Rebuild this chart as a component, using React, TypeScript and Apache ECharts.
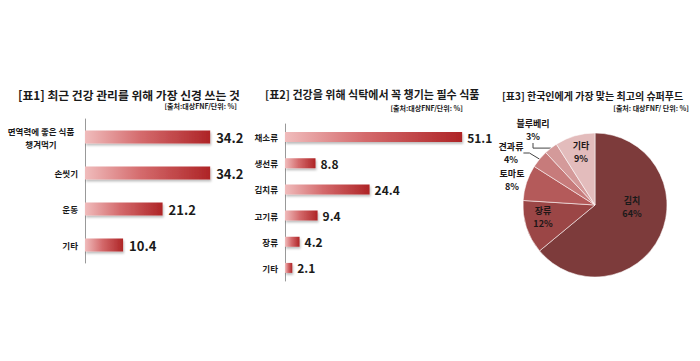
import React, { useEffect, useRef } from "react";
import * as echarts from "echarts";

const FONT = '"Noto Sans CJK KR", "Noto Sans", sans-serif';

// Chart 1
const title1 = "[표1] 최근 건강 관리를 위해 가장 신경 쓰는 것";
const source1 = "[출처:대상FNF/단위: %]";
const cats1 = ["면역력에 좋은 식품\n챙겨먹기", "손씻기", "운동", "기타"];
const vals1 = [34.2, 34.2, 21.2, 10.4];

// Chart 2
const title2 = "[표2] 건강을 위해 식탁에서 꼭 챙기는 필수 식품";
const source2 = "[출처:대상FNF/단위: %]";
const cats2 = ["채소류", "생선류", "김치류", "고기류", "장류", "기타"];
const vals2 = [51.1, 8.8, 24.4, 9.4, 4.2, 2.1];

// Chart 3
const title3 = "[표3] 한국인에게 가장 맞는 최고의 슈퍼푸드";
const source3 = "[출처: 대상FNF/ 단위: %]";
const pieNames = ["김치", "장류", "토마토", "견과류", "블루베리", "기타"];
const pieVals = [64, 12, 8, 4, 3, 9];
const pieColors = ["#7d3b3b", "#9b4646", "#b45a5a", "#c77b7b", "#d49a9a", "#e3bcbc"];
// label layout (centres of label blocks) - styling, not data
const pieLabelPos = [
  [632, 207],
  [543, 217],
  [512, 180],
  [511, 153],
  [533, 130],
  [581, 152],
];
const pieLine = [false, false, false, true, true, false];
const pieSeriesLabel = [false, true, true, true, true, true];

const barGradient = () =>
  new echarts.graphic.LinearGradient(0, 0, 1, 0, [
    { offset: 0, color: "#f0bcbc" },
    { offset: 0.45, color: "#d46a6c" },
    { offset: 1, color: "#ae2426" },
  ]);

export default function App() {
  const ref = useRef<HTMLDivElement>(null);
  useEffect(() => {
    document.body.style.margin = "0";
    if (!ref.current) return;
    const chart = echarts.init(ref.current, undefined, { renderer: "svg" });

    const catLabel = (size: number, margin: number) => ({
      fontSize: size,
      fontWeight: "bold" as const,
      fontFamily: FONT,
      color: "#1a1a1a",
      margin,
      formatter: (v: string) =>
        v.includes("\n")
          ? v
              .split("\n")
              .map((l) => `{c|${l}}`)
              .join("\n")
          : v,
      rich: {
        c: {
          width: 74,
          align: "center",
          fontSize: size,
          fontWeight: "bold",
          fontFamily: FONT,
          color: "#1a1a1a",
          lineHeight: 13,
        },
      },
    });

    const txt = (
      text: string,
      x: number,
      y: number,
      size: number,
      align: string,
      lineHeight?: number
    ) => ({
      type: "text",
      x,
      y,
      z: 100,
      style: {
        text,
        fontSize: size,
        fontWeight: "bold",
        fontFamily: FONT,
        fill: "#1a1a1a",
        align,
        verticalAlign: "middle",
        lineHeight,
      },
    });

    chart.setOption({
      animation: false,
      backgroundColor: "#fff",
      graphic: [
        txt(title1, 18, 94, 11.8, "left"),
        txt(source1, 237, 106, 7, "right"),
        txt(title2, 265, 94, 11, "left"),
        txt(source2, 463, 108, 7, "right"),
        txt(title3, 502, 95, 10, "left"),
        txt(source3, 689, 108, 7, "right"),
        txt(
          `${pieNames[0]}\n${pieVals[0]}%`,
          pieLabelPos[0][0],
          pieLabelPos[0][1],
          9,
          "center",
          13
        ),
      ],
      grid: [
        { left: 85, top: 119, width: 183, height: 144 },
        { left: 285, top: 124, width: 208, height: 157 },
      ],
      xAxis: [
        { gridIndex: 0, type: "value", min: 0, max: 50, show: false },
        { gridIndex: 1, type: "value", min: 0, max: 60, show: false },
      ],
      yAxis: [
        {
          gridIndex: 0,
          type: "category",
          inverse: true,
          data: cats1,
          axisLine: { lineStyle: { color: "#999", width: 1 } },
          axisTick: { show: false },
          axisLabel: catLabel(8.5, 7),
        },
        {
          gridIndex: 1,
          type: "category",
          inverse: true,
          data: cats2,
          axisLine: { lineStyle: { color: "#999", width: 1 } },
          axisTick: { show: false },
          axisLabel: catLabel(8.5, 7),
        },
      ],
      series: [
        {
          type: "bar",
          xAxisIndex: 0,
          yAxisIndex: 0,
          data: vals1,
          barWidth: 13,
          itemStyle: {
            color: barGradient(),
            shadowColor: "rgba(0,0,0,0.25)",
            shadowOffsetX: 1,
            shadowOffsetY: 2,
            shadowBlur: 2,
          },
          label: {
            show: true,
            position: "right",
            distance: 6,
            fontSize: 13,
            fontWeight: "bold",
            fontFamily: FONT,
            color: "#1a1a1a",
          },
        },
        {
          type: "bar",
          xAxisIndex: 1,
          yAxisIndex: 1,
          data: vals2,
          barWidth: 10,
          itemStyle: {
            color: barGradient(),
            shadowColor: "rgba(0,0,0,0.25)",
            shadowOffsetX: 1,
            shadowOffsetY: 2,
            shadowBlur: 2,
          },
          label: {
            show: true,
            position: "right",
            distance: 5,
            fontSize: 12,
            fontWeight: "bold",
            fontFamily: FONT,
            color: "#1a1a1a",
          },
        },
        {
          type: "pie",
          center: [595, 205],
          radius: 72,
          startAngle: 90,
          clockwise: true,
          itemStyle: { borderColor: "rgba(255,255,255,0.55)", borderWidth: 1 },
          data: pieNames.map((n, i) => ({
            name: n,
            value: pieVals[i],
            itemStyle: { color: pieColors[i] },
            label: { show: pieSeriesLabel[i] },
            labelLine: { show: pieLine[i] },
          })),
          label: {
            show: true,
            position: "outside",
            overflow: "none",
            formatter: "{b}\n{c}%",
            fontSize: 9,
            fontWeight: "bold",
            fontFamily: FONT,
            color: "#201616",
            lineHeight: 13,
            align: "center",
          },
          labelLine: {
            lineStyle: { color: "#444", width: 1 },
            length: 6,
            length2: 6,
          },
          labelLayout: (p: any) => {
            const pos = pieLabelPos[p.dataIndex];
            return {
              x: pos[0],
              y: pos[1],
              align: "center",
              verticalAlign: "middle",
            };
          },
        },
      ],
    });
    return () => chart.dispose();
  }, []);
  return <div ref={ref} style={{ width: 700, height: 361 }} />;
}
